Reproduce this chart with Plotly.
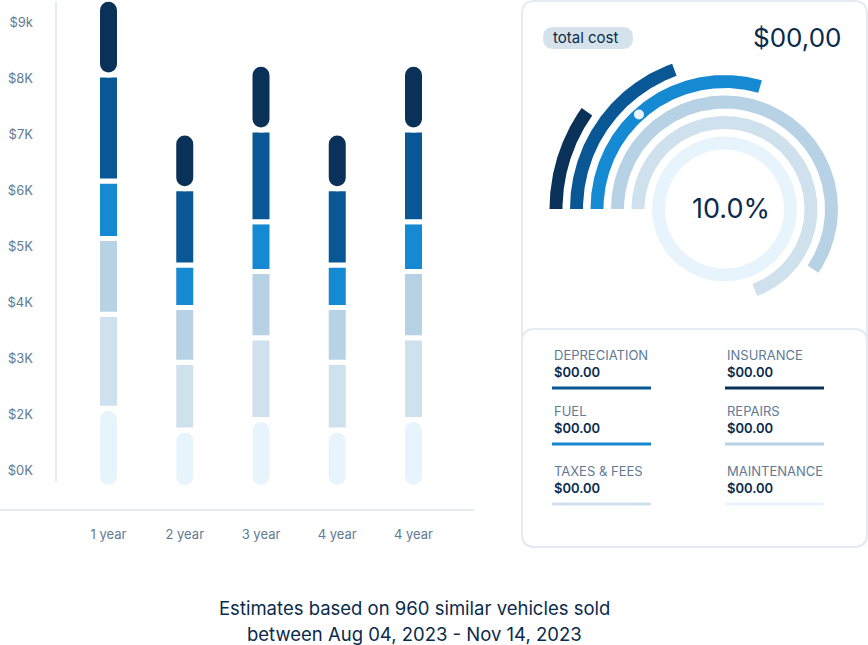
import numpy as np
import plotly.graph_objects as go

W, H = 868, 645

# ---- data ----
years = ['1 year', '2 year', '3 year', '4 year', '4 year']
categories = ['MAINTENANCE', 'TAXES & FEES', 'REPAIRS', 'FUEL', 'DEPRECIATION', 'INSURANCE']  # bottom -> top
maintenance = [1415, 1025, 1215, 1025, 1215]
taxes_fees = [1680, 1210, 1460, 1210, 1460]
repairs = [1350, 980, 1180, 980, 1180]
fuel = [1030, 760, 890, 760, 890]
depreciation = [1890, 1360, 1640, 1360, 1640]
insurance = [1355, 995, 1175, 995, 1175]
tick_labels = ['$0K', '$2K', '$3K', '$4K', '$5K', '$6K', '$7K', '$8K', '$9k']

gauge_share = [1.0, 0.693, 0.595, 0.295, 0.195, 0.098]  # same order as categories
gauge_dot = 0.133
center_pct = '10.0%'
total_cost = '$00,00'
legend_values = {'DEPRECIATION': '$00.00', 'INSURANCE': '$00.00', 'FUEL': '$00.00',
                 'REPAIRS': '$00.00', 'TAXES & FEES': '$00.00', 'MAINTENANCE': '$00.00'}
caption = ['Estimates based on 960 similar vehicles sold',
           'between Aug 04, 2023 - Nov 14, 2023']

colors = {'MAINTENANCE': '#e8f4fc', 'TAXES & FEES': '#cfe1ed', 'REPAIRS': '#b7d1e5',
          'FUEL': '#1589d1', 'DEPRECIATION': '#0a5796', 'INSURANCE': '#0a3157'}
NAVY = '#0a2b4c'
SLATE = '#5f7a94'
BORDER = '#e4ebf1'
FONT = 'Inter'


def px(x):
    return x / W


def py(y):
    return 1 - y / H


def rrect(x0, y0, x1, y1, r):
    pts = [('M', x0 + r, y0), ('L', x1 - r, y0), ('Q', x1, y0, x1, y0 + r), ('L', x1, y1 - r),
           ('Q', x1, y1, x1 - r, y1), ('L', x0 + r, y1), ('Q', x0, y1, x0, y1 - r),
           ('L', x0, y0 + r), ('Q', x0, y0, x0 + r, y0)]
    out = []
    for p in pts:
        cmd, coords = p[0], p[1:]
        xy = ['%.5f,%.5f' % (px(coords[k]), py(coords[k + 1])) for k in range(0, len(coords), 2)]
        out.append(cmd + ' '.join(xy))
    return ' '.join(out) + ' Z'


fig = go.Figure()

# ---- stacked bars ----
series = [maintenance, taxes_fees, repairs, fuel, depreciation, insurance]
xpos = np.arange(len(years))
bottom = np.zeros(len(years))
for i, (name, vals) in enumerate(zip(categories, series)):
    vals = np.array(vals, dtype=float)
    if i == 0:
        base, yv, rad = bottom + vals, -vals, '50%'
    elif i == len(series) - 1:
        base, yv, rad = bottom.copy(), vals, '50%'
    else:
        base, yv, rad = bottom.copy(), vals, 0
    fig.add_trace(go.Bar(
        x=xpos, y=yv, base=base, width=0.2885, name=name,
        marker=dict(color=colors[name], line=dict(color='white', width=5), cornerradius=rad),
        showlegend=False, hoverinfo='skip'))
    bottom += vals

# ---- radial gauge ----
for i, (name, share) in enumerate(zip(categories, gauge_share)):
    rm = 66 + 20.5 * i
    r0, r1 = rm - 6.5, rm + 6.5
    a = np.linspace(0, share * 360, 200)
    th = np.radians(180 - a)
    gx = np.concatenate([r1 * np.cos(th), r0 * np.cos(th[::-1])])
    gy = np.concatenate([r1 * np.sin(th), r0 * np.sin(th[::-1])])
    fig.add_trace(go.Scatter(x=gx, y=gy, xaxis='x2', yaxis='y2', mode='lines', fill='toself',
                             fillcolor=colors[name], line=dict(width=0), showlegend=False,
                             hoverinfo='skip'))

rd = 66 + 20.5 * 3
thd = np.radians(180 - gauge_dot * 360)
fig.add_trace(go.Scatter(x=[rd * np.cos(thd)], y=[rd * np.sin(thd)], xaxis='x2', yaxis='y2',
                         mode='markers', marker=dict(size=10, color='#e8f4fc'),
                         showlegend=False, hoverinfo='skip'))

# ---- shapes ----
shapes = [
    dict(type='line', xref='paper', yref='paper', x0=px(56), x1=px(56), y0=py(2), y1=py(482),
         line=dict(color=BORDER, width=2)),
    dict(type='line', xref='paper', yref='paper', x0=px(0), x1=px(474), y0=py(510), y1=py(510),
         line=dict(color=BORDER, width=2)),
    dict(type='path', xref='paper', yref='paper', path=rrect(522, 1, 867, 547, 13),
         line=dict(color=BORDER, width=2), fillcolor='rgba(0,0,0,0)', layer='below'),
    dict(type='path', xref='paper', yref='paper', path=rrect(522, 329, 867, 547, 13),
         line=dict(color=BORDER, width=2), fillcolor='rgba(0,0,0,0)', layer='below'),
    dict(type='path', xref='paper', yref='paper', path=rrect(543, 27, 633, 49, 11),
         line=dict(width=0), fillcolor='#d6e2eb', layer='below'),
]

annotations = []


def ann(text, x, y, size, color, xanchor='left', weight=400):
    annotations.append(dict(text=text, x=px(x), y=py(y), xref='paper', yref='paper',
                            xanchor=xanchor, yanchor='middle', showarrow=False,
                            font=dict(family=FONT, size=size, color=color, weight=weight)))


ann('total cost', 551, 38, 15, NAVY)
ann(total_cost, 843, 37, 26, NAVY, xanchor='right')
ann(center_pct, 730.5, 209, 27, NAVY, xanchor='center')

legend_rows = [('DEPRECIATION', 'INSURANCE'), ('FUEL', 'REPAIRS'), ('TAXES & FEES', 'MAINTENANCE')]
row_y = [355, 411, 471]
col_x = [552, 725]
for r, names in enumerate(legend_rows):
    for c, name in enumerate(names):
        x0 = col_x[c]
        y0 = row_y[r]
        ann(name, x0, y0, 13, SLATE)
        ann(legend_values[name], x0, y0 + 17, 13, NAVY, weight=600)
        shapes.append(dict(type='line', xref='paper', yref='paper', x0=px(x0), x1=px(x0 + 99),
                           y0=py(y0 + 33), y1=py(y0 + 33),
                           line=dict(color=colors[name], width=3)))

ann(caption[0], 414, 608, 18.5, NAVY, xanchor='center')
ann(caption[1], 414, 634, 18.5, NAVY, xanchor='center')

# y axis: 0 sits at pixel 487.5, 56 px per $1K
k = 1000 / 56
y_range = [-(H - 487.5) * k, 487.5 * k]
tickvals = [(487.5 - 470) * k + 1000 * i for i in range(len(tick_labels))]

fig.update_layout(
    width=W, height=H, margin=dict(l=0, r=0, t=0, b=0),
    paper_bgcolor='white', plot_bgcolor='rgba(0,0,0,0)',
    barmode='overlay', shapes=shapes, annotations=annotations,
    font=dict(family=FONT, color=SLATE),
    xaxis=dict(domain=[0, 0.55], range=[-1.423, 4.838], tickvals=list(xpos), ticktext=years,
               anchor='free', position=py(525), showgrid=False, zeroline=False, showline=False,
               ticks='', tickfont=dict(family=FONT, size=13, color=SLATE), fixedrange=True),
    yaxis=dict(domain=[0, 1], range=y_range, tickvals=tickvals, ticktext=tick_labels,
               anchor='free', position=px(33), showgrid=False, zeroline=False, showline=False,
               ticks='', tickfont=dict(family=FONT, size=13, color=SLATE), fixedrange=True),
    xaxis2=dict(domain=[0.6, 1], range=[W * 0.6 - 724.5, W - 724.5], visible=False,
                anchor='y2', fixedrange=True),
    yaxis2=dict(domain=[0.3, 1], range=[209 - H * 0.7, 209], visible=False,
                anchor='x2', fixedrange=True),
)

fig.write_html('out.html', config={'displayModeBar': False},
               post_script="document.body.style.margin='0';document.body.style.overflow='hidden';")
